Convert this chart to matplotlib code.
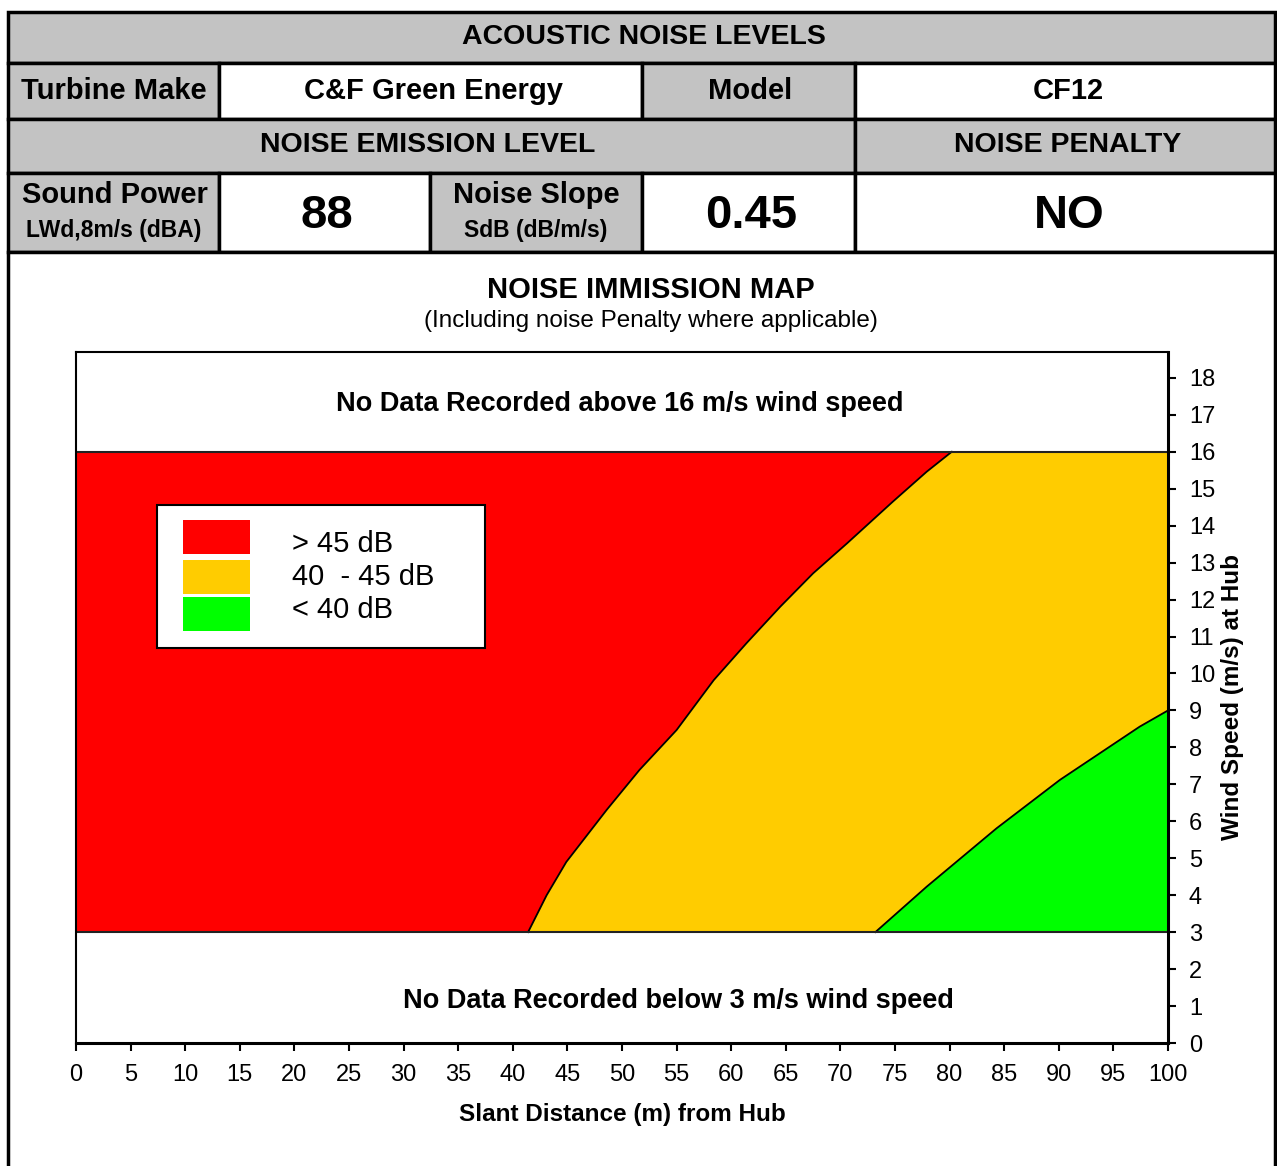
import numpy as np
import matplotlib
matplotlib.use('Agg')
import matplotlib.pyplot as plt
from matplotlib.patches import Rectangle

plt.rcParams['font.family'] = ['Liberation Sans', 'DejaVu Sans']

# header table values
turbine_make = 'C&F Green Energy'
model = 'CF12'
sound_power = '88'
noise_slope = '0.45'
noise_penalty = 'NO'

# band edges (m/s)
wind_min = 3
wind_max = 16

# >45 dB / 40-45 dB boundary
dist_45 = [41.4, 43.1, 44.9, 48.6, 51.6, 55.0, 58.4, 61.4, 64.5, 67.5, 70.6, 74.8, 77.9, 80.2]
wind_45 = [3.0, 4.0, 4.9, 6.31, 7.39, 8.47, 9.82, 10.82, 11.81, 12.71, 13.52, 14.65, 15.46, 16.0]

# 40-45 dB / <40 dB boundary
dist_40 = [73.2, 77.9, 84.3, 90.1, 97.4, 100.0]
wind_40 = [3.0, 4.23, 5.81, 7.12, 8.56, 9.0]

band_labels = ['> 45 dB', '40  - 45 dB', '< 40 dB']
band_colors = ['#ff0000', '#ffcc00', '#00ff00']

x_ticks = np.arange(0, 101, 5)
y_ticks = np.arange(0, 19, 1)

W, H = 1277, 1166
fig = plt.figure(figsize=(W / 100, H / 100), dpi=100)

# ---- header table, drawn in pixel space ----
bg = fig.add_axes([0, 0, 1, 1])
bg.set_xlim(0, W)
bg.set_ylim(H, 0)
bg.axis('off')

gray = '#c3c3c3'
def cell(x0, x1, y0, y1, fc):
    bg.add_patch(Rectangle((x0, y0), x1 - x0, y1 - y0, fc=fc, ec='black', lw=2.5))

def txt(x, y, s, size, weight='bold'):
    bg.text(x, y, s, ha='center', va='center', fontsize=size, fontweight=weight)

cell(8, 1275, 12, 63, gray)
txt(644, 37, 'ACOUSTIC NOISE LEVELS', 20.5)

cell(8, 219, 63, 119, gray)
cell(219, 642, 63, 119, 'white')
cell(642, 855, 63, 119, gray)
cell(855, 1275, 63, 119, 'white')
txt(114, 91, 'Turbine Make', 21)
txt(433, 91, turbine_make, 21)
txt(750, 91, 'Model', 21)
txt(1068, 91, model, 21)

cell(8, 855, 119, 173, gray)
cell(855, 1275, 119, 173, gray)
txt(428, 145, 'NOISE EMISSION LEVEL', 20.5)
txt(1068, 145, 'NOISE PENALTY', 20.5)

cell(8, 219, 173, 252, gray)
cell(219, 430, 173, 252, 'white')
cell(430, 642, 173, 252, gray)
cell(642, 855, 173, 252, 'white')
cell(855, 1275, 173, 252, 'white')
txt(115, 195, 'Sound Power', 21)
txt(114, 231, 'LWd,8m/s (dBA)', 16.5)
txt(327, 216, sound_power, 34)
txt(536, 195, 'Noise Slope', 21)
txt(536, 231, 'SdB (dB/m/s)', 16.5)
txt(751, 216, noise_slope, 34)
txt(1069, 216, noise_penalty, 34)

cell(8, 1275, 252, 1180, 'white')
txt(651, 290, 'NOISE IMMISSION MAP', 21)
txt(651, 321, '(Including noise Penalty where applicable)', 17.5, 'normal')

# ---- immission map ----
ax = fig.add_axes([76 / W, 1 - 1043 / H, (1168 - 76) / W, (1043 - 352) / H])
ax.set_xlim(0, 100)
ax.set_ylim(0, 18.7)

ax.fill([0, 100, 100, 0], [wind_min, wind_min, wind_max, wind_max], color=band_colors[1], lw=0)
ax.fill([0] + dist_45 + [0], [wind_min] + wind_45 + [wind_max], color=band_colors[0], lw=0)
ax.fill(dist_40 + [100], wind_40 + [wind_min], color=band_colors[2], lw=0)
ax.plot(dist_45, wind_45, color='black', lw=1.3)
ax.plot(dist_40, wind_40, color='black', lw=1.3)
ax.plot([0, 100], [wind_min, wind_min], color='#222222', lw=1.5)
ax.plot([0, 100], [wind_max, wind_max], color='#222222', lw=1.5)

ax.text(49.8, 17.3, 'No Data Recorded above 16 m/s wind speed', ha='center', va='center',
        fontsize=19.5, fontweight='bold')
ax.text(55.2, 1.15, 'No Data Recorded below 3 m/s wind speed', ha='center', va='center',
        fontsize=19.5, fontweight='bold')

# legend box
ax.add_patch(Rectangle((7.4, 10.68), 30.05, 3.87, fc='white', ec='black', lw=1.5, zorder=5))
sw_top = [14.15, 13.06, 12.06]
lab_y = [13.5, 12.6, 11.72]
for i in range(3):
    ax.add_patch(Rectangle((9.8, sw_top[i] - 0.92), 6.1, 0.92, fc=band_colors[i], lw=0, zorder=6))
    ax.text(19.8, lab_y[i], band_labels[i], fontsize=21, va='center', ha='left', zorder=6)

ax.set_xticks(x_ticks)
ax.set_yticks(y_ticks)
ax.yaxis.tick_right()
ax.yaxis.set_label_position('right')
ax.tick_params(axis='both', direction='out', length=6, width=1.5, labelsize=17, colors='black')
ax.tick_params(axis='x', pad=9)
ax.tick_params(axis='y', pad=9)
for sp in ax.spines.values():
    sp.set_linewidth(1.5)
ax.spines['right'].set_linewidth(2.2)
ax.spines['bottom'].set_linewidth(2.2)

ax.set_xlabel('Slant Distance (m) from Hub', fontsize=17.5, fontweight='bold', labelpad=12)
ax.set_ylabel('Wind Speed (m/s) at Hub', fontsize=17.5, fontweight='bold', labelpad=4)

fig.savefig('out.png', dpi=100)
